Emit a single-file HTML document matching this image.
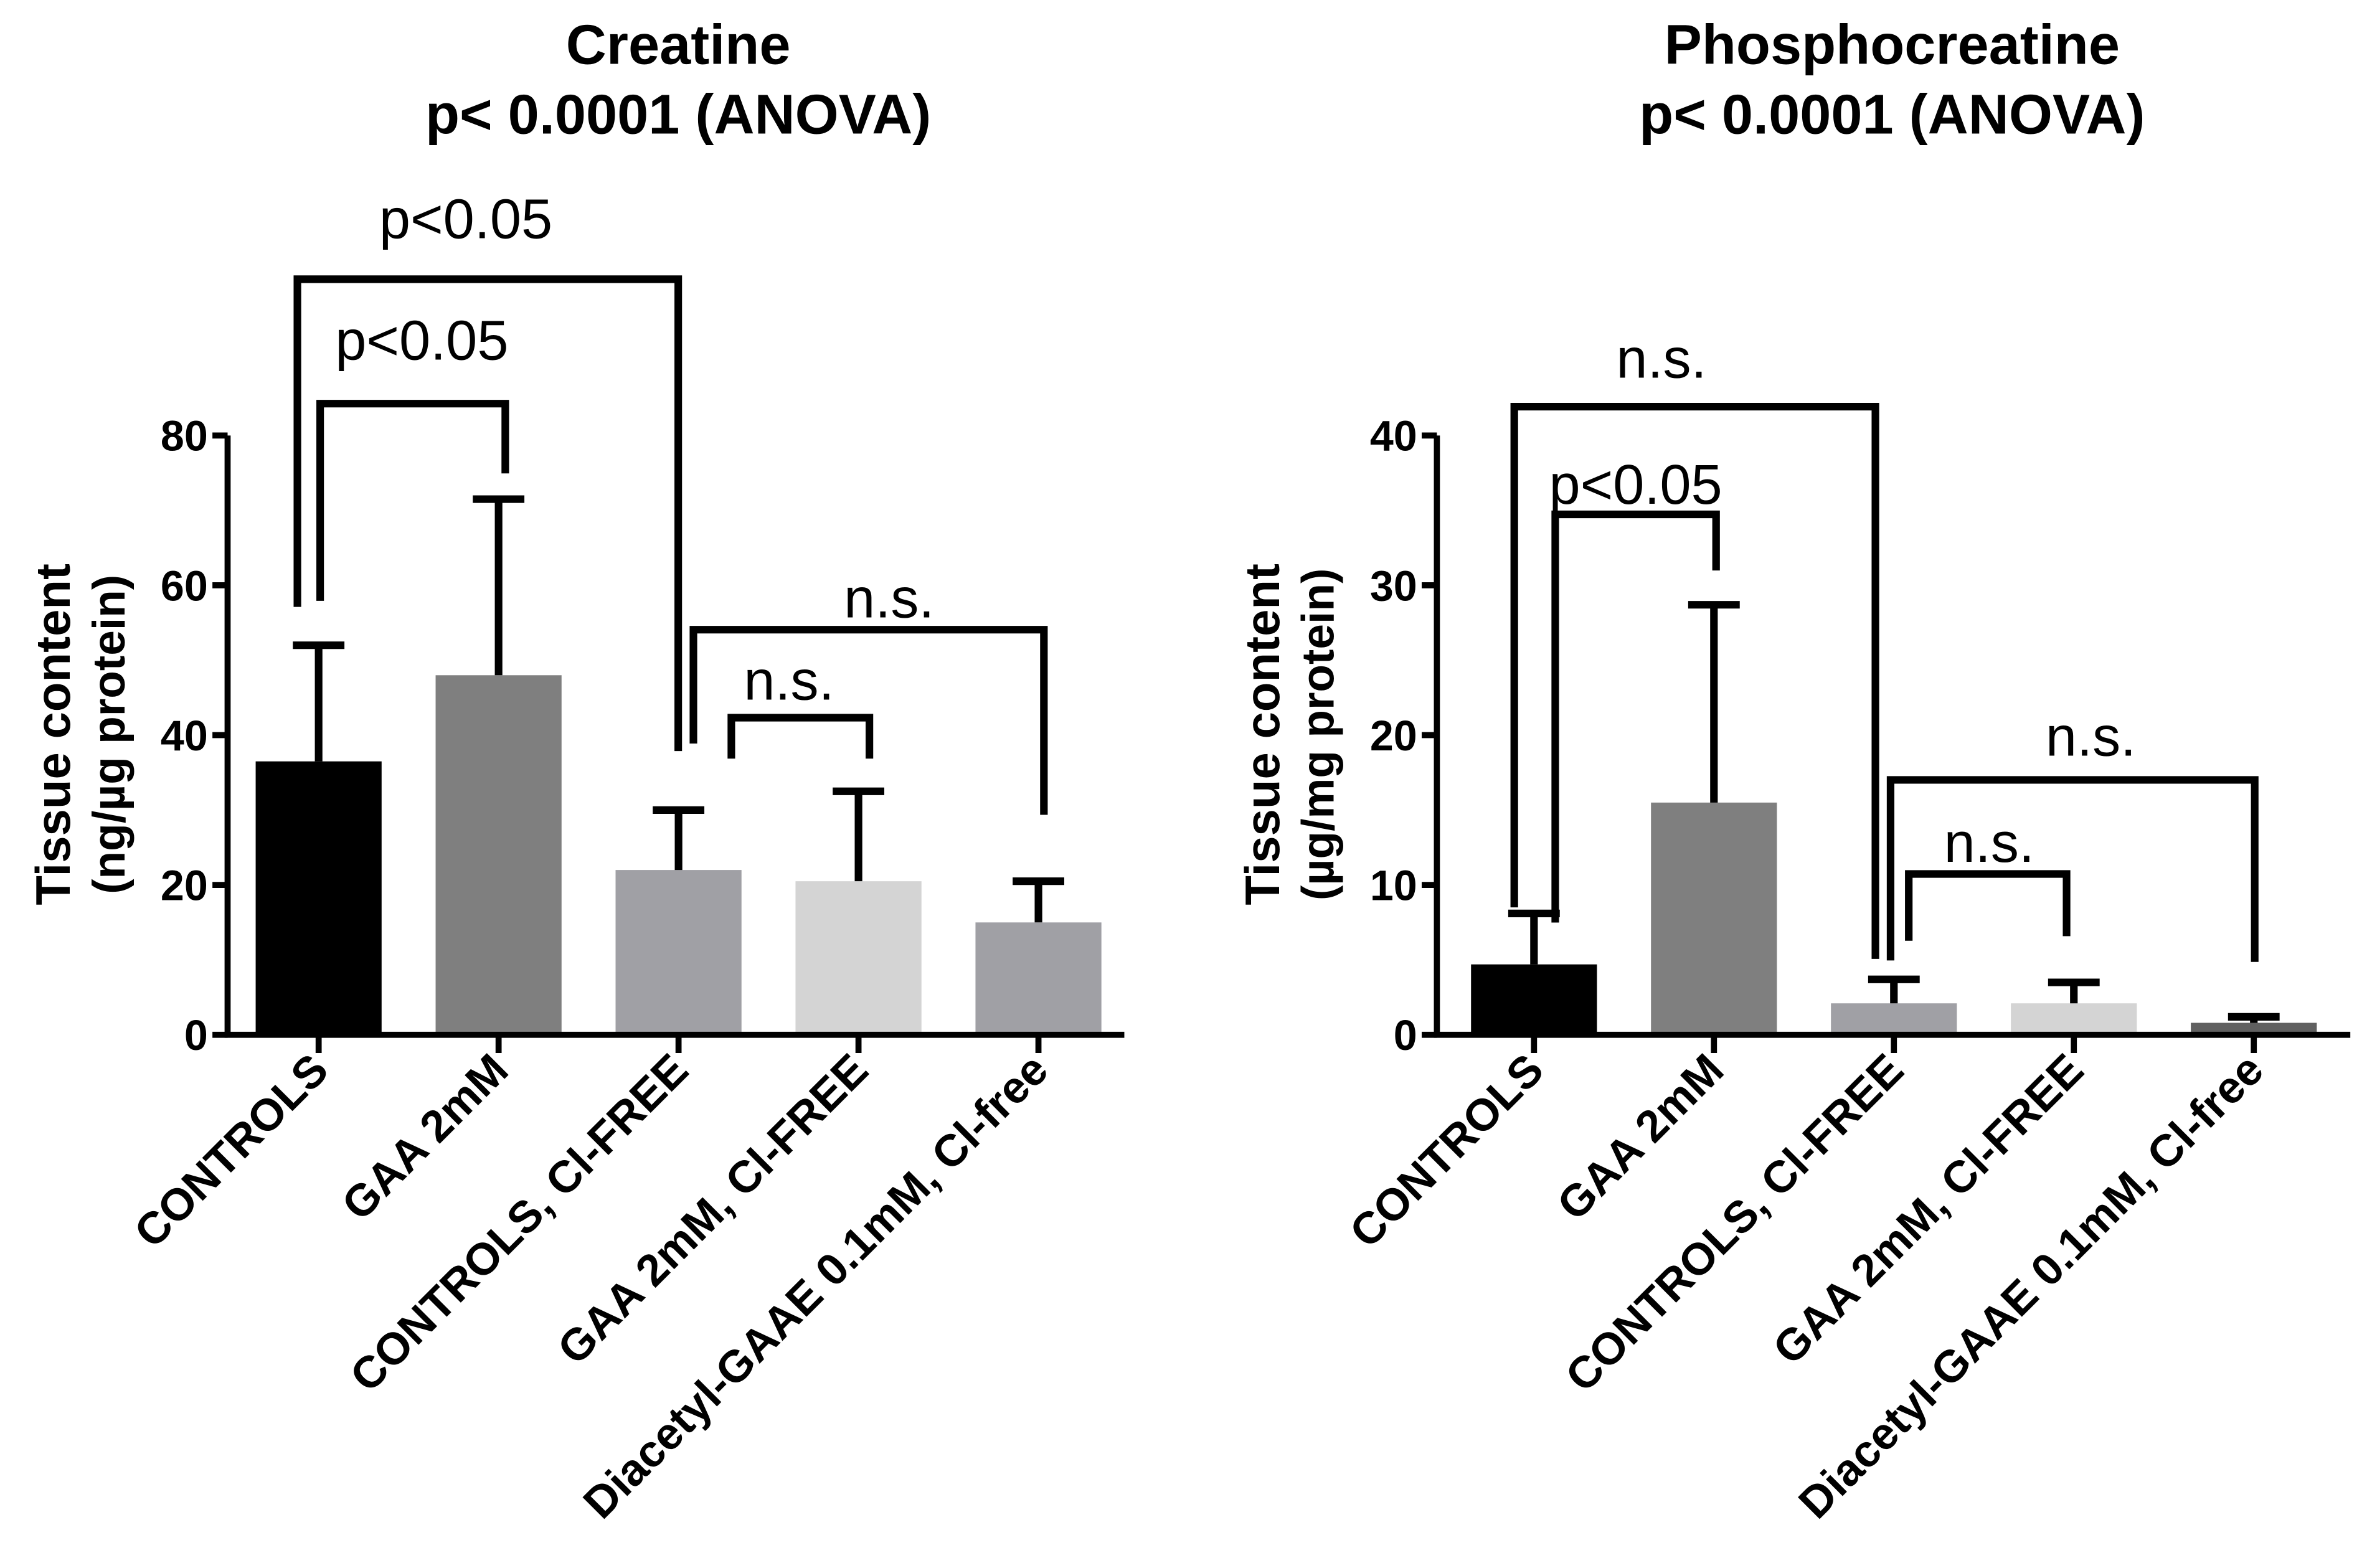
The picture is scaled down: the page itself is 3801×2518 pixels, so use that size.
<!DOCTYPE html>
<html><head><meta charset="utf-8"><style>
body{margin:0;background:#fff}
svg{display:block}
text{font-family:"Liberation Sans",Arial,sans-serif}
</style></head><body>
<svg id="chart" width="3801" height="2518" viewBox="0 0 1560 1033.4" xmlns="http://www.w3.org/2000/svg">
<rect width="1560" height="1034" fill="#fff"/>
<g id="left"></g>
<g id="right"></g>
</svg>
<script>
const categories = ["CONTROLS","GAA 2mM","CONTROLS, Cl-FREE","GAA 2mM, Cl-FREE","Diacetyl-GAAE 0.1mM, Cl-free"];
const creatineMeans = [36.5, 48, 22, 20.5, 15];
const creatineErr = [52, 71.5, 30, 32.5, 20.5];
const creatineTicks = [0,20,40,60,80];
const pcrMeans = [4.7, 15.5, 2.1, 2.1, 0.8];
const pcrErr = [8.1, 28.7, 3.7, 3.5, 1.2];
const pcrTicks = [0,10,20,30,40];
const creatineColors = ["#000","#7f7f7f","#a0a0a5","#d4d4d4","#a0a0a5"];
const pcrColors = ["#000","#7f7f7f","#a0a0a5","#d4d4d4","#606060"];

const NS="http://www.w3.org/2000/svg";
function mk(parent,tag,attrs,txt){const e=document.createElementNS(NS,tag);for(const k in attrs)e.setAttribute(k,attrs[k]);if(txt!==undefined)e.textContent=txt;parent.appendChild(e);return e;}

function panel(g,cfg){
  const y0=682, yTop=287;
  const ys=v=>y0-(v/cfg.max)*(y0-yTop);
  const xs=i=>cfg.x0+i*118.6;
  let t=mk(g,'text',{x:cfg.tc,y:42,'text-anchor':'middle','font-size':37,'font-weight':'bold'},cfg.title);
  
  
  t=mk(g,'text',{x:cfg.tc,y:88,'text-anchor':'middle','font-size':37,'font-weight':'bold'},'p< 0.0001 (ANOVA)');
  
  
  const yt=mk(g,'text',{transform:`translate(${cfg.ax-104},484) rotate(-90)`,'text-anchor':'middle','font-size':32,'font-weight':'bold'},'Tissue content');
  
  
  const yt2=mk(g,'text',{transform:`translate(${cfg.ax-68},484) rotate(-90)`,'text-anchor':'middle','font-size':30,'font-weight':'bold'},cfg.unit);
  
  
  cfg.means.forEach((m,i)=>{
    const cx=xs(i);
    const b=mk(g,'rect',{x:cx-41.5,y:ys(m),width:83,height:y0-ys(m),fill:cfg.colors[i]});
    
    
    const e=mk(g,'path',{d:`M${cx} ${ys(m)}V${ys(cfg.err[i])}M${cx-17} ${ys(cfg.err[i])}H${cx+17}`,stroke:'#000','stroke-width':5,fill:'none'});
    
    
    mk(g,'line',{x1:cx,y1:y0,x2:cx,y2:y0+12,stroke:'#000','stroke-width':4});
    const l=mk(g,'text',{transform:`translate(${cx+8},707) rotate(-45)`,'text-anchor':'end','font-size':29.5,'font-weight':'bold'},categories[i]);
    
    
  });
  const ax=mk(g,'path',{d:`M${cfg.ax} ${yTop}V${y0}H${cfg.axEnd}`,stroke:'#000','stroke-width':4,fill:'none'});
  
  
  cfg.ticks.forEach(v=>{
    mk(g,'line',{x1:cfg.ax-10,y1:ys(v),x2:cfg.ax,y2:ys(v),stroke:'#000','stroke-width':4});
    const tl=mk(g,'text',{x:cfg.ax-13,y:ys(v)+10,'text-anchor':'end','font-size':28,'font-weight':'bold'},String(v));
    
    
  });
  cfg.brackets.forEach(b=>{
    const p=mk(g,'path',{d:`M${b[0]} ${b[1]}V${b[2]}H${b[3]}V${b[4]}`,stroke:'#000','stroke-width':5,fill:'none'});
    
    
    const tx=mk(g,'text',{x:b[5],y:b[6],'text-anchor':'middle','font-size':37},b[7]);
    
    
  });
}
panel(document.getElementById('left'),{x0:210,ax:150,axEnd:741,max:80,tc:447,title:'Creatine',unit:'(ng/\u00b5g protein)',
  means:creatineMeans,err:creatineErr,ticks:creatineTicks,colors:creatineColors,
  brackets:[[196,400,184,447,495,307,157,'p<0.05'],[211,396,266,333,312,278,237,'p<0.05'],[457,490,415,688,537,586,407,'n.s.'],[482,500,473,573,500,520,461,'n.s.']]});
panel(document.getElementById('right'),{x0:1011,ax:947,axEnd:1549,max:40,tc:1247,title:'Phosphocreatine',unit:'(\u00b5g/mg protein)',
  means:pcrMeans,err:pcrErr,ticks:pcrTicks,colors:pcrColors,
  brackets:[[998,598,268,1236,632,1095,249,'n.s.'],[1025,608,339,1131,376,1078,332,'p<0.05'],[1246,633,514,1486,634,1378,498,'n.s.'],[1258,620,576,1362,617,1311,568,'n.s.']]});
</script>
</body></html>
